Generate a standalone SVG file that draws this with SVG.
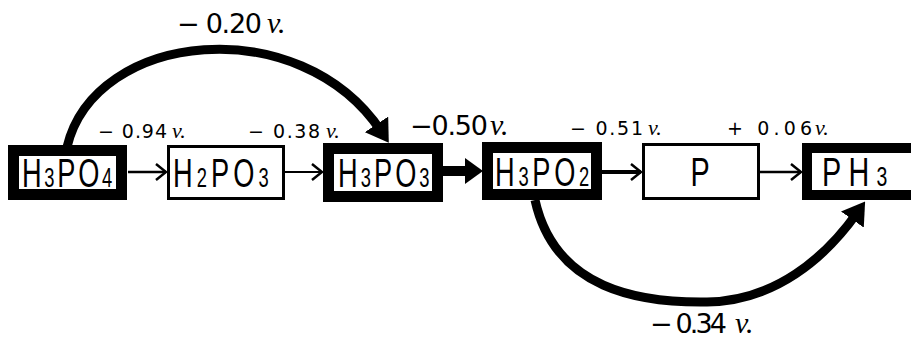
<svg xmlns="http://www.w3.org/2000/svg" width="911" height="340" viewBox="0 0 911 340">
<style>
.thick{fill:#fff;stroke:#000;stroke-width:11}
.thin{fill:#fff;stroke:#000;stroke-width:3}
.nt{font-family:"Liberation Sans",Arial,sans-serif;font-size:40px;fill:#000}
.sub{font-size:27px}
.lb{font-family:"DejaVu Sans","Liberation Sans",sans-serif;fill:#000}
.v{font-family:"Liberation Serif","Times New Roman",serif;font-style:italic;fill:#000}
.s{font-size:19px}
.b{font-size:27px}
.vs{font-size:22px}
.vb{font-size:30px}
.ln{fill:none;stroke:#000}
</style>
<defs>
<marker id="open" markerUnits="userSpaceOnUse" viewBox="0 0 12 18" markerWidth="12" markerHeight="18" refX="11" refY="9" orient="auto">
<path d="M1,1 L11,9 L1,17" fill="none" stroke="#000" stroke-width="2.5"/>
</marker>
<marker id="fat" markerUnits="userSpaceOnUse" viewBox="0 0 18 26" markerWidth="18" markerHeight="26" refX="10" refY="13" orient="auto">
<path d="M0,0 L18,13 L0,26 Z" fill="#000"/>
</marker>
<marker id="fatc" markerUnits="userSpaceOnUse" viewBox="0 0 22 28" markerWidth="22" markerHeight="28" refX="8" refY="14" orient="auto">
<path d="M0,0 L22,14 L0,28 Z" fill="#000"/>
</marker>
</defs>

<g id="connectors">
<line class="ln" x1="128" y1="172" x2="166" y2="172" stroke-width="2.5" marker-end="url(#open)"/>
<line class="ln" x1="285" y1="172" x2="322" y2="172" stroke-width="2" marker-end="url(#open)"/>
<line class="ln" x1="443" y1="171" x2="475" y2="171" stroke-width="10" marker-end="url(#fat)"/>
<line class="ln" x1="602" y1="172" x2="641" y2="172" stroke-width="4" marker-end="url(#open)"/>
<line class="ln" x1="760" y1="172" x2="801" y2="172" stroke-width="2.5" marker-end="url(#open)"/>
<path class="ln" d="M67,147 C95,30 300,10 381,131" stroke-width="9" marker-end="url(#fatc)"/>
<path class="ln" d="M535,200 C555,290 640,303 707,302 C775,301 825,258 857,213" stroke-width="9" marker-end="url(#fatc)"/>
</g>

<g id="n_H3PO4">
<rect class="thick" x="13.5" y="150.5" width="108" height="44"/>
<text class="nt" transform="translate(22,187) scale(0.68,1)" letter-spacing="4">H<tspan class="sub">3</tspan>PO<tspan class="sub">4</tspan></text>
</g>
<g id="n_H2PO3">
<rect class="thin" x="168.5" y="146.5" width="115" height="52"/>
<text class="nt" transform="translate(173,187) scale(0.68,1)" letter-spacing="6">H<tspan class="sub">2</tspan>PO<tspan class="sub">3</tspan></text>
</g>
<g id="n_H3PO3">
<rect class="thick" x="328.5" y="148.5" width="109" height="48"/>
<text class="nt" transform="translate(338,187) scale(0.68,1)" letter-spacing="4.5">H<tspan class="sub">3</tspan>PO<tspan class="sub">3</tspan></text>
</g>
<g id="n_H3PO2">
<rect class="thick" x="487.5" y="147.5" width="109" height="47"/>
<text class="nt" transform="translate(495,186) scale(0.68,1)" letter-spacing="5.5">H<tspan class="sub">3</tspan>PO<tspan class="sub">2</tspan></text>
</g>
<g id="n_P">
<rect class="thin" x="643.5" y="144.5" width="115" height="54"/>
<text class="nt" transform="translate(700,186) scale(0.72,1)" text-anchor="middle">P</text>
</g>
<g id="n_PH3">
<rect class="thick" x="807" y="148" width="110" height="47" style="stroke-width:10"/>
<text class="nt" transform="translate(822,186) scale(0.72,1)" letter-spacing="10">PH<tspan class="sub">3</tspan></text>
</g>

<g id="labels">
<text class="lb s" x="98" y="138" textLength="69" lengthAdjust="spacing">− 0.94</text>
<text class="v vs" x="172" y="138">v.</text>
<text class="lb s" x="248" y="138" textLength="72" lengthAdjust="spacing">− 0.38</text>
<text class="v vs" x="326" y="138">v.</text>
<text class="lb b" x="410" y="135" textLength="78" lengthAdjust="spacing">−0.50</text>
<text class="v vb" x="490" y="135">v.</text>
<text class="lb s" x="570" y="135" textLength="73" lengthAdjust="spacing">− 0.51</text>
<text class="v vs" x="648" y="135">v.</text>
<text class="lb s" x="727" y="135" textLength="85" lengthAdjust="spacing">+ 0.06</text>
<text class="v vs" x="815" y="135">v.</text>
<text class="lb b" x="177" y="33" textLength="85" lengthAdjust="spacing">− 0.20</text>
<text class="v vb" x="267" y="33">v.</text>
<text class="lb b" x="650" y="333" textLength="77" lengthAdjust="spacing">− 0.34</text>
<text class="v vb" x="735" y="333">v.</text>
</g>
</svg>
